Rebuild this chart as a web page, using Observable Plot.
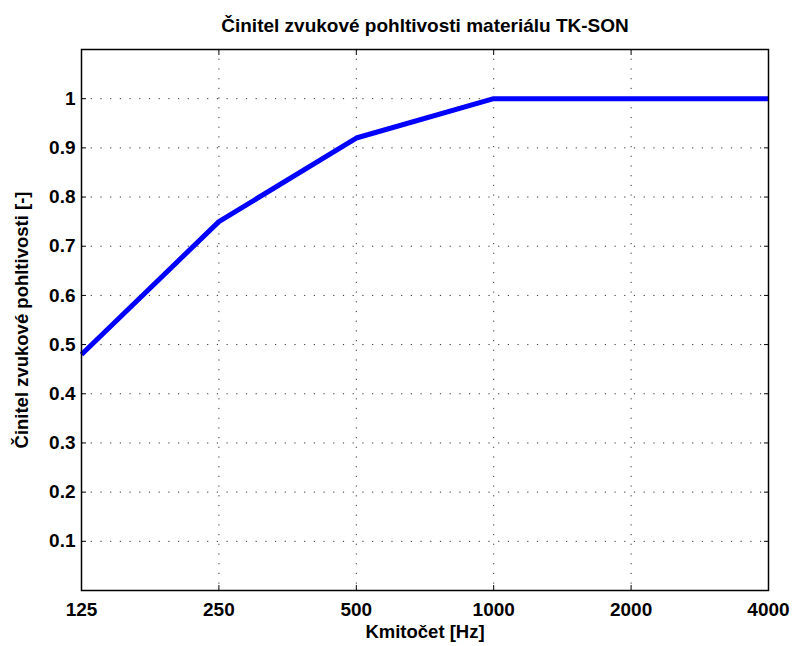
<!DOCTYPE html>
<html>
<head>
<meta charset="utf-8">
<script src="https://cdn.jsdelivr.net/npm/d3@7"></script>
<script src="https://cdn.jsdelivr.net/npm/@observablehq/plot@0.6"></script>
<style>
  html, body { margin: 0; padding: 0; background: #fff; }
  #chart { width: 795px; height: 646px; }
</style>
</head>
<body>
<div id="chart"></div>
<script>
const frequencies = [125, 250, 500, 1000, 2000, 4000];
const absorption = [0.48, 0.75, 0.92, 1.0, 1.0, 1.0];
const xTicks = [125, 250, 500, 1000, 2000, 4000];
const yTicks = [0.1, 0.2, 0.3, 0.4, 0.5, 0.6, 0.7, 0.8, 0.9, 1];
const titleText = "Činitel zvukové pohltivosti materiálu TK-SON";
const xLabel = "Kmitočet [Hz]";
const yLabel = "Činitel zvukové pohltivosti [-]";

const data = frequencies.map((f, i) => ({f, a: absorption[i]}));
const font = "Liberation Sans, Arial, Helvetica, sans-serif";

const plot = Plot.plot({
  width: 795,
  height: 646,
  marginLeft: 81,
  marginRight: 27,
  marginTop: 49,
  marginBottom: 56,
  style: {fontFamily: font, fontSize: "19px", fontWeight: "bold", color: "#000", background: "#fff"},
  x: {type: "log", domain: [125, 4000], label: null},
  y: {domain: [0, 1.1], label: null},
  marks: [
    Plot.gridX(xTicks.slice(1, -1), {stroke: "#333", strokeOpacity: 1, strokeDasharray: "1.2,8.5", strokeWidth: 1}),
    Plot.gridY(yTicks, {stroke: "#333", strokeOpacity: 1, strokeDasharray: "1.2,8.5", strokeWidth: 1}),
    Plot.axisX(xTicks, {anchor: "bottom", tickSize: 0, tickPadding: 12, tickFormat: d => String(d), fontSize: 19, fontWeight: "bold", label: null}),
    Plot.axisY(yTicks, {anchor: "left", tickSize: 0, tickPadding: 6, tickFormat: d => String(d), fontSize: 19, fontWeight: "bold", label: null}),
    Plot.axisX(xTicks, {anchor: "bottom", tickSize: -5, text: null, label: null, strokeWidth: 1}),
    Plot.axisX(xTicks, {anchor: "top", tickSize: -5, text: null, label: null, strokeWidth: 1}),
    Plot.axisY(yTicks, {anchor: "left", tickSize: -5, text: null, label: null, strokeWidth: 1}),
    Plot.axisY(yTicks, {anchor: "right", tickSize: -5, text: null, label: null, strokeWidth: 1}),
    Plot.line(data, {x: "f", y: "a", stroke: "#0000ff", strokeWidth: 5, strokeLinejoin: "miter", strokeLinecap: "butt"}),
    Plot.frame({stroke: "#000", strokeWidth: 1.5}),
    Plot.text([titleText], {frameAnchor: "top", lineAnchor: "middle", dy: -24, text: d => d, fontSize: 19, fontWeight: "bold", fill: "#000"}),
    Plot.text([xLabel], {frameAnchor: "bottom", lineAnchor: "middle", dy: 42, text: d => d, fontSize: 18.5, fontWeight: "bold", fill: "#000"}),
    Plot.text([yLabel], {frameAnchor: "left", textAnchor: "middle", lineAnchor: "middle", dx: -59, rotate: -90, text: d => d, fontSize: 18.5, fontWeight: "bold", fill: "#000"})
  ]
});
document.getElementById("chart").appendChild(plot);
</script>
</body>
</html>
